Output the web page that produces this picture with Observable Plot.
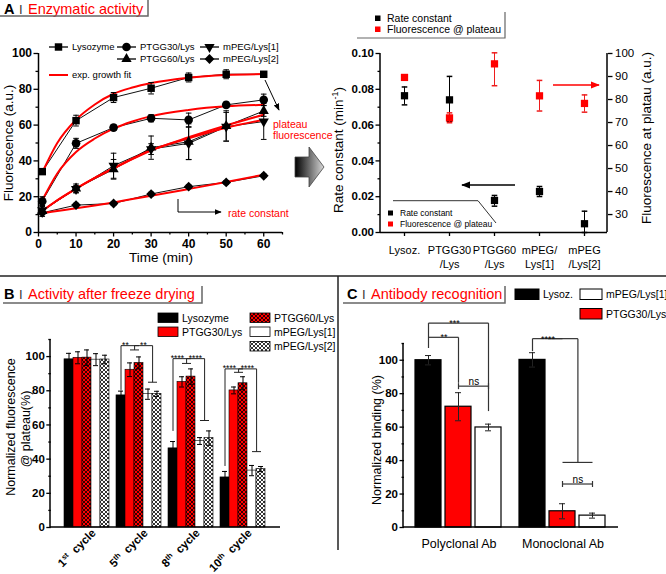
<!DOCTYPE html>
<html>
<head>
<meta charset="utf-8">
<script src="https://cdn.jsdelivr.net/npm/d3@7"></script>
<script src="https://cdn.jsdelivr.net/npm/@observablehq/plot@0.6"></script>
<style>
  body { margin: 0; background: #fff; }
  #fig { position: relative; width: 666px; height: 574px; overflow: hidden; background: #fff;
         font-family: "Liberation Sans", Arial, Helvetica, sans-serif; }
</style>
</head>
<body>
<svg width="0" height="0" style="position:absolute">
  <defs>
    <pattern id="hatchRed" patternUnits="userSpaceOnUse" width="4" height="4">
      <rect width="4" height="4" fill="#ff0000"/>
      <path d="M-1,-1L5,5M5,-1L-1,5" stroke="#000" stroke-width="0.8"/>
    </pattern>
    <pattern id="hatchWhite" patternUnits="userSpaceOnUse" width="4" height="4">
      <rect width="4" height="4" fill="#ffffff"/>
      <path d="M-1,-1L5,5M5,-1L-1,5" stroke="#000" stroke-width="0.8"/>
    </pattern>
  </defs>
</svg>
<div id="fig"></div>
<script>
// ================= DATA =================
// --- Panel A (left): fluorescence kinetics ---
const timeMin = [1, 10, 20, 30, 40, 50, 60];
const seriesA = ["Lysozyme", "PTGG30/Lys", "PTGG60/Lys", "mPEG/Lys[1]", "mPEG/Lys[2]"];
const fluoLysozyme = [34, 62.5, 75.4, 80.6, 86.6, 88.4, 88.4];
const errLysozyme  = [1.5, 3, 2.8, 3.2, 2.5, 2.5, 1];
const fluoPTGG30   = [17.5, 49.8, 58.6, 63.8, 62.9, 71.3, 74.1];
const errPTGG30    = [2.5, 2.8, 1.5, 2, 3.8, 1.5, 3.2];
const fluoPTGG60   = [12, 24.6, 35.3, 47.4, 50.7, 59.5, 67.9];
const errPTGG60    = [3, 2.5, 5.5, 6.5, 10, 8.5, 3];
const fluoMPEG1    = [12.5, 24.3, 37.3, 46.6, 49.8, 59.1, 62];
const errMPEG1     = [2, 2, 7, 3, 9, 8, 10];
const fluoMPEG2    = [11, 15.3, 16.2, 21.5, 25.6, 28, 31.7];
const errMPEG2     = [1, 1, 1, 1, 1, 1, 1];
// exponential growth fits
const fitTime      = [1, 5, 10, 15, 20, 25, 30, 40, 50, 60];
const fitLysozyme  = [33.5, 50, 63, 71.5, 77.5, 81, 83.5, 86.5, 88, 88.5];
const fitPTGG30    = [18, 33, 45, 52.5, 58, 62, 65, 68.5, 70.5, 71.3];
const fitPTGG60    = [12, 18, 24.5, 30.5, 35.8, 41, 45.8, 53.2, 59.8, 65.8];
const fitMPEG1     = [12, 18, 24.5, 30.5, 36, 41.2, 46, 52.6, 58.5, 63];
const fitMPEG2     = [10.8, 12, 13.5, 15.1, 16.8, 18.7, 20.5, 24.3, 28.2, 32.3];

// --- Panel A (right): fit parameters ---
const fitSamples      = ["Lysoz.", "PTGG30/Lys", "PTGG60/Lys", "mPEG/Lys[1]", "mPEG/Lys[2]"];
const fitSampleLabels = ["Lysoz.", "PTGG30\n/Lys", "PTGG60\n/Lys", "mPEG/\nLys[1]", "mPEG\n/Lys[2]"];
const rateConstant    = [0.0764, 0.0741, 0.0179, 0.0229, 0.0049];
const rateErrUp       = [0.0049, 0.0131, 0.0028, 0.0028, 0.007];
const rateErrDown     = [0.0051, 0.012, 0.0032, 0.0028, 0.0049];
const plateauFluo     = [89.6, 72, 95.5, 81.6, 78.3];
const plateauErrUp    = [1, 2.2, 4.8, 6.7, 3.7];
const plateauErrDown  = [1, 2.1, 9.5, 6.6, 3.8];

// --- Panel B: activity after freeze drying ---
const cycles      = ["1st cycle", "5th cycle", "8th cycle", "10th cycle"];
const seriesB     = ["Lysozyme", "PTGG30/Lys", "PTGG60/Lys", "mPEG/Lys[1]", "mPEG/Lys[2]"];
const actLysozyme = [98.4, 77.3, 46.3, 29.3];
const actLysozymeErr = [3.5, 2.5, 4, 3.5];
const actPTGG30   = [99.3, 92.3, 85.2, 80.2];
const actPTGG30Err = [3.5, 4, 3, 2];
const actPTGG60   = [99.4, 96.3, 88.3, 84.4];
const actPTGG60Err = [4.5, 3.5, 4.5, 3.8];
const actMPEG1    = [98.2, 78, 50.6, 33.3];
const actMPEG1Err = [3.5, 3, 2, 3];
const actMPEG2    = [98.3, 78.2, 52.3, 34.2];
const actMPEG2Err = [2.5, 1.5, 4.2, 1.5];
// significance brackets (levels in % units)
const sigCyclesB  = ["5th cycle", "8th cycle", "10th cycle"];
const sigStartB   = [80.5, 56.5, 36];
const sigTopB     = [106.4, 98.8, 92.8];
const sigPairB    = [103.9, 96, 90.8];
const sigMPEGB    = [85, 62.6, 44.4];
const sigLabelB   = ["**", "****", "****"];

// --- Panel C: antibody recognition ---
const antibodies   = ["Polyclonal Ab", "Monoclonal Ab"];
const seriesC      = ["Lysoz.", "PTGG30/Lys", "mPEG/Lys[1]"];
const bindLysoz    = [100, 100.2];
const bindLysozErr = [2.8, 4.3];
const bindPTGG30   = [72.2, 9.7];
const bindPTGG30Err = [8.4, 4.5];
const bindMPEG1    = [59.8, 7.1];
const bindMPEG1Err = [2, 1.5];
// significance levels
const sigPolyStart = 107.3, sigPolyTop3 = 122.2, sigPolyEnd3 = 69.6;
const sigPolyTop2 = 113.7, sigPolyEnd2 = 86.5, sigPolyNs = 84.5;
const sigMonoStart = 105.4, sigMonoTop = 112.9, sigMonoGroup = 38.9, sigMonoNs = 26;

// ================= HELPERS =================
const FONT = '"Liberation Sans", Arial, Helvetica, sans-serif';
const RED = "#ff0000";
const fig = document.getElementById("fig");
function place(el, left, top) {
  el.style.position = "absolute"; el.style.left = left + "px"; el.style.top = top + "px";
  fig.appendChild(el); return el;
}
function addLine(svg, x1, y1, x2, y2, w = 1.5) {
  d3.select(svg).append("line").attr("x1", x1).attr("y1", y1).attr("x2", x2).attr("y2", y2)
    .attr("stroke", "#000").attr("stroke-width", w);
}
const capSymbol = {draw(ctx, size) { const r = Math.sqrt(size / Math.PI); ctx.moveTo(-r, 0); ctx.lineTo(r, 0); }};
const triangleDown = {draw(ctx, size) {
  const y = -Math.sqrt(size / (Math.sqrt(3) * 3));
  ctx.moveTo(0, -y * 2); ctx.lineTo(-Math.sqrt(3) * y, y); ctx.lineTo(Math.sqrt(3) * y, y); ctx.closePath();
}};
const baseStyle = {fontFamily: FONT, background: "transparent", overflow: "visible", color: "#000"};

// ================= PANEL A (left) =================
const fluoA = [fluoLysozyme, fluoPTGG30, fluoPTGG60, fluoMPEG1, fluoMPEG2];
const errA = [errLysozyme, errPTGG30, errPTGG60, errMPEG1, errMPEG2];
const fitA = [fitLysozyme, fitPTGG30, fitPTGG60, fitMPEG1, fitMPEG2];
const rowsA = seriesA.flatMap((s, i) => timeMin.map((t, j) => ({
  series: s, t, v: fluoA[i][j], lo: fluoA[i][j] - errA[i][j], hi: fluoA[i][j] + errA[i][j]})));
const rowsFitA = seriesA.flatMap((s, i) => fitTime.map((t, j) => ({series: s, t, v: fitA[i][j]})));
const markerStyle = {
  "Lysozyme":    {symbol: "square", r: 4.2},
  "PTGG30/Lys":  {symbol: "circle", r: 4.3},
  "PTGG60/Lys":  {symbol: "triangle", r: 3.8},
  "mPEG/Lys[1]": {symbol: triangleDown, r: 3.8},
  "mPEG/Lys[2]": {symbol: "diamond2", r: 4.4}
};

const plotA1 = Plot.plot({
  width: 290, height: 275, marginLeft: 38, marginRight: 8, marginTop: 53, marginBottom: 43,
  style: baseStyle,
  x: {domain: [0, 65]},
  y: {domain: [0, 100]},
  marks: [
    Plot.axisY({ticks: [0, 20, 40, 60, 80, 100], tickSize: 4.5, tickPadding: 2, fontSize: 12, fontWeight: "bold", strokeWidth: 1.3, label: null}),
    Plot.axisY({ticks: [10, 30, 50, 70, 90], tickSize: 2.5, tickFormat: () => "", strokeWidth: 1.3, label: null}),
    Plot.axisX({ticks: [0, 10, 20, 30, 40, 50, 60], tickSize: 4.5, tickPadding: 2, fontSize: 12, fontWeight: "bold", strokeWidth: 1.3, label: null}),
    Plot.axisX({ticks: [5, 15, 25, 35, 45, 55, 65], tickSize: 2.5, tickFormat: () => "", strokeWidth: 1.3, label: null}),
    Plot.ruleX([0], {strokeWidth: 1.5}),
    Plot.ruleY([0], {strokeWidth: 1.5}),
    Plot.line(rowsA, {x: "t", y: "v", z: "series", stroke: "#111", strokeWidth: 1}),
    Plot.line(rowsFitA, {x: "t", y: "v", z: "series", stroke: RED, strokeWidth: 2, curve: "monotone-x"}),
    Plot.ruleX(rowsA, {x: "t", y1: "lo", y2: "hi", stroke: "#000", strokeWidth: 1}),
    Plot.dot(rowsA, {x: "t", y: "hi", symbol: capSymbol, r: 2.8, fill: "none", stroke: "#000", strokeWidth: 1}),
    Plot.dot(rowsA, {x: "t", y: "lo", symbol: capSymbol, r: 2.8, fill: "none", stroke: "#000", strokeWidth: 1}),
    ...seriesA.map(s => Plot.dot(rowsA.filter(d => d.series === s),
      {x: "t", y: "v", symbol: markerStyle[s].symbol, r: markerStyle[s].r, fill: "#000", stroke: "none"}))
  ]
});
place(plotA1, 0, 0);

// ================= PANEL A (right) =================
const rowsRate = fitSamples.map((c, i) => ({sample: c, v: rateConstant[i],
  lo: rateConstant[i] - rateErrDown[i], hi: rateConstant[i] + rateErrUp[i]}));
const rowsPlateau = fitSamples.map((c, i) => ({sample: c, v: plateauFluo[i],
  lo: plateauFluo[i] - plateauErrDown[i], hi: plateauFluo[i] + plateauErrUp[i]}));
const dimsA2 = {width: 336, height: 275, marginLeft: 50, marginRight: 59, marginTop: 53, marginBottom: 43};
const xA2 = {type: "point", domain: fitSamples, padding: 0.52};

const plotA2 = Plot.plot({
  ...dimsA2, style: baseStyle,
  x: xA2,
  y: {domain: [0, 0.1]},
  marks: [
    Plot.axisY({ticks: [0, 0.02, 0.04, 0.06, 0.08, 0.1], tickFormat: d3.format(".2f"), tickSize: 4.5, tickPadding: 2, fontSize: 11.5, fontWeight: "bold", strokeWidth: 1.3, label: null}),
    Plot.axisY({ticks: [0.01, 0.03, 0.05, 0.07, 0.09], tickSize: 2.5, tickFormat: () => "", strokeWidth: 1.3, label: null}),
    Plot.axisX({ticks: fitSamples, tickFormat: d => fitSampleLabels[fitSamples.indexOf(d)], tickSize: 4, tickPadding: 8, fontSize: 11, lineHeight: 1.25, strokeWidth: 1.3, label: null}),
    Plot.ruleY([0], {strokeWidth: 1.5}),
    Plot.ruleX(rowsRate, {x: "sample", y1: "lo", y2: "hi", stroke: "#000", strokeWidth: 1}),
    Plot.dot(rowsRate, {x: "sample", y: "hi", symbol: capSymbol, r: 2.8, fill: "none", stroke: "#000"}),
    Plot.dot(rowsRate, {x: "sample", y: "lo", symbol: capSymbol, r: 2.8, fill: "none", stroke: "#000"}),
    Plot.dot(rowsRate, {x: "sample", y: "v", symbol: "square", r: 4.1, fill: "#000", stroke: "none"})
  ]
});
addLine(plotA2, 50, 53, 50, 232);
addLine(plotA2, 277, 53, 277, 232);
place(plotA2, 330, 0);

const plotA3 = Plot.plot({
  ...dimsA2, style: baseStyle,
  x: {...xA2, axis: null},
  y: {domain: [22.2, 100]},
  marks: [
    Plot.axisY({anchor: "right", ticks: [30, 40, 50, 60, 70, 80, 90, 100], tickSize: 4.5, tickPadding: 3, fontSize: 11.5, strokeWidth: 1.3, label: null}),
    Plot.ruleX(rowsPlateau, {x: "sample", y1: "lo", y2: "hi", stroke: "#ee1c1c", strokeWidth: 1}),
    Plot.dot(rowsPlateau, {x: "sample", y: "hi", symbol: capSymbol, r: 2.8, fill: "none", stroke: "#ee1c1c"}),
    Plot.dot(rowsPlateau, {x: "sample", y: "lo", symbol: capSymbol, r: 2.8, fill: "none", stroke: "#ee1c1c"}),
    Plot.dot(rowsPlateau, {x: "sample", y: "v", symbol: "square", r: 4.1, fill: RED, stroke: "none"})
  ]
});
place(plotA3, 330, 0);

// ================= PANEL B =================
const actB = [actLysozyme, actPTGG30, actPTGG60, actMPEG1, actMPEG2];
const actErrB = [actLysozymeErr, actPTGG30Err, actPTGG60Err, actMPEG1Err, actMPEG2Err];
const rowsB = seriesB.flatMap((s, i) => cycles.map((c, j) => ({series: s, cycle: c, v: actB[i][j],
  lo: actB[i][j] - actErrB[i][j], hi: actB[i][j] + actErrB[i][j]})));
const fillB = {"Lysozyme": "#000", "PTGG30/Lys": RED, "PTGG60/Lys": "url(#hatchRed)",
               "mPEG/Lys[1]": "#fff", "mPEG/Lys[2]": "url(#hatchWhite)"};
const halfBarB = 4.6;
const segCenterB = sigCyclesB.flatMap((c, i) => [
  {fx: c, x1: "Lysozyme", x2: "Lysozyme", y1: sigStartB[i], y2: sigTopB[i]},
  {fx: c, x1: "Lysozyme", x2: "PTGG60/Lys", y1: sigTopB[i], y2: sigTopB[i]},
  {fx: c, x1: "PTGG30/Lys", x2: "PTGG60/Lys", y1: sigPairB[i], y2: sigPairB[i]},
  {fx: c, x1: "mPEG/Lys[1]", x2: "mPEG/Lys[2]", y1: sigMPEGB[i], y2: sigMPEGB[i]}
]);
const segEdgeB = sigCyclesB.flatMap((c, i) => [
  {fx: c, x1: "PTGG30/Lys", x2: "PTGG30/Lys", y1: sigTopB[i], y2: sigPairB[i]},
  {fx: c, x1: "PTGG30/Lys", x2: "mPEG/Lys[1]", y1: sigTopB[i], y2: sigTopB[i]},
  {fx: c, x1: "mPEG/Lys[1]", x2: "mPEG/Lys[1]", y1: sigTopB[i], y2: sigMPEGB[i]}
]);
const starsB = sigCyclesB.flatMap((c, i) => [
  {fx: c, x: "PTGG30/Lys", y: sigTopB[i], label: sigLabelB[i]},
  {fx: c, x: "mPEG/Lys[1]", y: sigTopB[i], label: sigLabelB[i]}
]);

const plotB = Plot.plot({
  width: 337, height: 298, marginLeft: 50, marginRight: 57, marginTop: 63, marginBottom: 47,
  style: baseStyle,
  fx: {domain: cycles, paddingInner: 0.13, paddingOuter: 0.25},
  x: {domain: seriesB, padding: 0, axis: null},
  y: {domain: [0, 110]},
  marks: [
    Plot.axisY({ticks: [0, 20, 40, 60, 80, 100], dx: -13.2, tickSize: 4.5, tickPadding: 2, fontSize: 11.5, fontWeight: "bold", strokeWidth: 1.3, label: null}),
    Plot.axisY({ticks: [10, 30, 50, 70, 90, 110], dx: -13.2, tickSize: 2.5, tickFormat: () => "", strokeWidth: 1.3, label: null}),
    Plot.axisFx({anchor: "bottom", tickRotate: -45, tickSize: 0, tickPadding: 8, dx: 7, dy: -4.5, fontSize: 11.5, fontWeight: "bold", label: null}),
    ...seriesB.map(s => Plot.barY(rowsB.filter(d => d.series === s),
      {fx: "cycle", x: "series", y: "v", fill: fillB[s], stroke: "#000", strokeWidth: 0.6})),
    Plot.ruleX(rowsB, {fx: "cycle", x: "series", y1: "lo", y2: "hi", stroke: "#000", strokeWidth: 1}),
    Plot.tickY(rowsB, {fx: "cycle", x: "series", y: "hi", insetLeft: 2, insetRight: 2, strokeWidth: 1}),
    Plot.tickY(rowsB, {fx: "cycle", x: "series", y: "lo", insetLeft: 2, insetRight: 2, strokeWidth: 1}),
    Plot.link(segCenterB, {fx: "fx", x1: "x1", x2: "x2", y1: "y1", y2: "y2", stroke: "#222", strokeWidth: 1}),
    Plot.link(segEdgeB, {fx: "fx", x1: "x1", x2: "x2", y1: "y1", y2: "y2", dx: halfBarB, stroke: "#222", strokeWidth: 1}),
    Plot.text(starsB, {fx: "fx", x: "x", y: "y", text: "label", dx: -halfBarB, dy: 2, lineAnchor: "bottom", fontSize: 8.5})
  ]
});
addLine(plotB, 50, 63, 50, 251);
addLine(plotB, 50, 251, 280, 251);
d3.select(plotB).selectAll('g[aria-label="fx-axis tick label"] text').each(function () {
  const m = this.textContent.match(/^(\d+)(st|nd|rd|th) (.*)$/);
  if (!m) return;
  const t = d3.select(this); t.text(null);
  t.append("tspan").text(m[1]);
  t.append("tspan").attr("baseline-shift", "super").attr("font-size", "7.5px").text(m[2]);
  t.append("tspan").text("\u00a0\u00a0" + m[3]);
});
place(plotB, 0, 276);

// ================= PANEL C =================
const bindC = [bindLysoz, bindPTGG30, bindMPEG1];
const bindErrC = [bindLysozErr, bindPTGG30Err, bindMPEG1Err];
const rowsC = seriesC.flatMap((s, i) => antibodies.map((a, j) => ({series: s, ab: a, v: bindC[i][j],
  lo: bindC[i][j] - bindErrC[i][j], hi: bindC[i][j] + bindErrC[i][j]})));
const fillC = {"Lysoz.": "#000", "PTGG30/Lys": RED, "mPEG/Lys[1]": "#fff"};
const halfStepC = 15.4;
const P = antibodies[0], M = antibodies[1];
const segCenterC = [
  {fx: P, x1: "Lysoz.", x2: "Lysoz.", y1: sigPolyStart, y2: sigPolyTop3},
  {fx: P, x1: "Lysoz.", x2: "mPEG/Lys[1]", y1: sigPolyTop3, y2: sigPolyTop3},
  {fx: P, x1: "mPEG/Lys[1]", x2: "mPEG/Lys[1]", y1: sigPolyTop3, y2: sigPolyEnd3},
  {fx: P, x1: "Lysoz.", x2: "PTGG30/Lys", y1: sigPolyTop2, y2: sigPolyTop2},
  {fx: P, x1: "PTGG30/Lys", x2: "PTGG30/Lys", y1: sigPolyTop2, y2: sigPolyEnd2},
  {fx: P, x1: "PTGG30/Lys", x2: "mPEG/Lys[1]", y1: sigPolyNs, y2: sigPolyNs},
  {fx: P, x1: "PTGG30/Lys", x2: "PTGG30/Lys", y1: sigPolyNs - 1.8, y2: sigPolyNs + 1.8},
  {fx: P, x1: "mPEG/Lys[1]", x2: "mPEG/Lys[1]", y1: sigPolyNs - 1.8, y2: sigPolyNs + 1.8},
  {fx: M, x1: "Lysoz.", x2: "Lysoz.", y1: sigMonoStart, y2: sigMonoTop},
  {fx: M, x1: "Lysoz.", x2: "PTGG30/Lys", y1: sigMonoTop, y2: sigMonoTop},
  {fx: M, x1: "PTGG30/Lys", x2: "mPEG/Lys[1]", y1: sigMonoGroup, y2: sigMonoGroup},
  {fx: M, x1: "PTGG30/Lys", x2: "mPEG/Lys[1]", y1: sigMonoNs, y2: sigMonoNs},
  {fx: M, x1: "PTGG30/Lys", x2: "PTGG30/Lys", y1: sigMonoNs - 1.8, y2: sigMonoNs + 1.8},
  {fx: M, x1: "mPEG/Lys[1]", x2: "mPEG/Lys[1]", y1: sigMonoNs - 1.8, y2: sigMonoNs + 1.8}
];
const segEdgeC = [
  {fx: M, x1: "Lysoz.", x2: "PTGG30/Lys", y1: sigMonoTop, y2: sigMonoTop},
  {fx: M, x1: "PTGG30/Lys", x2: "PTGG30/Lys", y1: sigMonoTop, y2: sigMonoGroup}
];
const starsCCenter = [{fx: P, x: "PTGG30/Lys", y: sigPolyTop3, label: "***"}];
const starsCEdge = [
  {fx: P, x: "Lysoz.", y: sigPolyTop2, label: "**"},
  {fx: M, x: "Lysoz.", y: sigMonoTop, label: "****"}
];
const nsC = [{fx: P, x: "PTGG30/Lys", y: sigPolyNs, label: "ns"}, {fx: M, x: "PTGG30/Lys", y: sigMonoNs, label: "ns"}];

const plotC = Plot.plot({
  width: 328, height: 298, marginLeft: 65, marginRight: 48, marginTop: 67, marginBottom: 47,
  style: baseStyle,
  fx: {domain: antibodies, paddingInner: 0.16, paddingOuter: 0.105},
  x: {domain: seriesC, paddingInner: 0.13, paddingOuter: 0, axis: null},
  y: {domain: [0, 110]},
  marks: [
    Plot.axisY({ticks: [0, 20, 40, 60, 80, 100], dx: -11, tickSize: 4.5, tickPadding: 2, fontSize: 11.5, fontWeight: "bold", strokeWidth: 1.3, label: null}),
    Plot.axisY({ticks: [10, 30, 50, 70, 90, 110], dx: -11, tickSize: 2.5, tickFormat: () => "", strokeWidth: 1.3, label: null}),
    Plot.axisFx({anchor: "bottom", tickSize: 0, tickPadding: 12, fontSize: 12.5, label: null}),
    ...seriesC.map(s => Plot.barY(rowsC.filter(d => d.series === s),
      {fx: "ab", x: "series", y: "v", fill: fillC[s], stroke: "#000", strokeWidth: 1.2})),
    Plot.ruleX(rowsC, {fx: "ab", x: "series", y1: "lo", y2: "hi", stroke: "#222", strokeWidth: 1}),
    Plot.tickY(rowsC, {fx: "ab", x: "series", y: "hi", insetLeft: 10, insetRight: 10, stroke: "#222", strokeWidth: 1}),
    Plot.tickY(rowsC, {fx: "ab", x: "series", y: "lo", insetLeft: 10, insetRight: 10, stroke: "#222", strokeWidth: 1}),
    Plot.link(segCenterC, {fx: "fx", x1: "x1", x2: "x2", y1: "y1", y2: "y2", stroke: "#333", strokeWidth: 1.2}),
    Plot.link(segEdgeC, {fx: "fx", x1: "x1", x2: "x2", y1: "y1", y2: "y2", dx: halfStepC, stroke: "#333", strokeWidth: 1.2}),
    Plot.text(starsCCenter, {fx: "fx", x: "x", y: "y", text: "label", dx: -4, dy: 3, lineAnchor: "bottom", fontSize: 9}),
    Plot.text(starsCEdge, {fx: "fx", x: "x", y: "y", text: "label", dx: halfStepC, dy: 3, lineAnchor: "bottom", fontSize: 9}),
    Plot.text(nsC, {fx: "fx", x: "x", y: "y", text: "label", dx: halfStepC, dy: -1.5, lineAnchor: "bottom", fontSize: 10})
  ]
});
addLine(plotC, 65, 67, 65, 251);
addLine(plotC, 65, 251, 280, 251);
place(plotC, 338, 276);

// ================= OVERLAY: titles, legends, arrows =================
const ov = d3.create("svg").attr("width", 666).attr("height", 574)
  .style("position", "absolute").style("left", "0px").style("top", "0px")
  .style("pointer-events", "none").attr("font-family", FONT);
const defs = ov.append("defs");
function marker(id, color, size) {
  defs.append("marker").attr("id", id).attr("viewBox", "0 0 10 10").attr("refX", 9).attr("refY", 5)
    .attr("markerWidth", size).attr("markerHeight", size).attr("markerUnits", "userSpaceOnUse")
    .attr("orient", "auto").append("path").attr("d", "M0,1L10,5L0,9Z").attr("fill", color);
}
marker("headBlack", "#000", 9); marker("headRed", RED, 9); marker("headSmall", "#000", 7);
const grad = defs.append("linearGradient").attr("id", "bigArrowGrad").attr("x1", 0).attr("x2", 1).attr("y1", 0).attr("y2", 0);
grad.append("stop").attr("offset", "0%").attr("stop-color", "#000");
grad.append("stop").attr("offset", "100%").attr("stop-color", "#d8d8d8");

function poly(pts, stroke = "#000", w = 1, mk) {
  const p = ov.append("polyline").attr("points", pts.map(p => p.join(",")).join(" "))
    .attr("fill", "none").attr("stroke", stroke).attr("stroke-width", w);
  if (mk) p.attr("marker-end", `url(#${mk})`);
  return p;
}
function txt(x, y, s, size, opts = {}) {
  const t = ov.append("text").attr("x", x).attr("y", y).attr("font-size", size).attr("dy", "0.35em")
    .attr("fill", opts.fill || "#000").text(s);
  if (opts.anchor) t.attr("text-anchor", opts.anchor);
  if (opts.weight) t.attr("font-weight", opts.weight);
  return t;
}
function vtxt(x, y, s, size) {
  return ov.append("text").attr("transform", `translate(${x},${y}) rotate(-90)`)
    .attr("text-anchor", "middle").attr("font-size", size).text(s);
}
function panelTitle(x, baseline, letter, label, boxRight, boxTop, boxBottom, boxLeft) {
  const t = ov.append("text").attr("y", baseline).attr("font-size", 14.5);
  t.append("tspan").attr("x", x).attr("font-weight", "bold").attr("font-size", 14.5).text(letter);
  t.append("tspan").attr("x", x + 15).attr("fill", "#333").attr("font-size", 13).text("I");
  t.append("tspan").attr("x", x + 24).attr("fill", RED).text(label);
  poly([[boxLeft, boxBottom], [boxRight, boxBottom], [boxRight, boxTop]], "#666", 1.5);
}

// dividers
poly([[0, 276], [666, 276]], "#222", 1.5);
poly([[338, 276], [338, 550]], "#222", 1.5);

// titles
panelTitle(4, 13.5, "A", "Enzymatic activity", 148, 0, 16, 0);
panelTitle(4, 299, "B", "Activity after freeze drying", 202, 286, 303, 3);
panelTitle(347, 299, "C", "Antibody recognition", 505, 286, 303, 343);

// --- Panel A left: axis titles, legend, annotations ---
vtxt(13, 143, "Fluorescence (a.u.)", 13.5);
txt(161, 257, "Time (min)", 13.5, {anchor: "middle"});
const legA = [
  {s: "Lysozyme", x: 49, y: 47}, {s: "PTGG30/Lys", x: 117, y: 47}, {s: "mPEG/Lys[1]", x: 200, y: 47},
  {s: "PTGG60/Lys", x: 117, y: 59}, {s: "mPEG/Lys[2]", x: 200, y: 59}
];
legA.forEach(d => {
  poly([[d.x, d.y], [d.x + 19, d.y]], "#000", 1.3);
  const st = markerStyle[d.s];
  const type = typeof st.symbol === "string"
    ? {square: d3.symbolSquare, circle: d3.symbolCircle, triangle: d3.symbolTriangle, diamond2: d3.symbolDiamond2}[st.symbol]
    : st.symbol;
  ov.append("path").attr("d", d3.symbol(type, Math.PI * st.r * st.r)()).attr("transform", `translate(${d.x + 9.5},${d.y})`).attr("fill", "#000");
  txt(d.x + 23, d.y, d.s, 9.5);
});
poly([[49, 75], [68, 75]], RED, 2);
txt(72, 75, "exp. growth fit", 9.5);
txt(273, 124, "plateau", 10.5, {fill: RED});
txt(273, 135, "fluorescence", 10.5, {fill: RED});
poly([[265, 80], [279, 110]], "#000", 1, "headSmall");
poly([[178, 199], [178, 212], [221, 212]], "#000", 1, "headSmall");
txt(228, 213, "rate constant", 10.5, {fill: RED});

// big gradient arrow
ov.append("path").attr("d", "M295,157L309,157L309,147L324,167L309,187L309,177L295,177Z")
  .attr("fill", "url(#bigArrowGrad)").attr("stroke", "#444").attr("stroke-width", 0.8);

// --- Panel A right ---
const rt = ov.append("text").attr("transform", "translate(343,150) rotate(-90)").attr("text-anchor", "middle").attr("font-size", 13.5);
rt.append("tspan").text("Rate constant (min");
rt.append("tspan").attr("baseline-shift", "super").attr("font-size", 9).text("-1");
rt.append("tspan").text(")");
vtxt(651, 138, "Fluorescence at platau (a.u.)", 13.5);
// top legend
ov.append("rect").attr("x", 375).attr("y", 15.5).attr("width", 5.5).attr("height", 5.5).attr("fill", "#000");
txt(387, 18, "Rate constant", 10.5);
ov.append("rect").attr("x", 375).attr("y", 26.5).attr("width", 5.5).attr("height", 5.5).attr("fill", RED);
txt(387, 29, "Fluorescence @ plateau", 10.5);
poly([[357, 38], [505, 38], [505, 12]], "#666", 1.2);
// inner legend
poly([[393, 200.7], [478, 200.7], [496, 223]], "#333", 1);
ov.append("rect").attr("x", 388).attr("y", 210.5).attr("width", 5).attr("height", 5).attr("fill", "#000");
txt(400, 213, "Rate constant", 8.5);
ov.append("rect").attr("x", 388).attr("y", 221.5).attr("width", 5).attr("height", 5).attr("fill", RED);
txt(400, 224, "Fluorescence @ plateau", 8.5);
// arrows
poly([[515, 185], [462, 185]], "#000", 1.5, "headBlack");
poly([[553, 85], [599, 85]], RED, 1.5, "headRed");

// --- Panel B legend & axis title ---
const legB = [
  {s: "Lysozyme", x: 158, y: 313, fill: "#000"}, {s: "PTGG30/Lys", x: 158, y: 327, fill: RED},
  {s: "PTGG60/Lys", x: 250, y: 313, fill: "url(#hatchRed)"}, {s: "mPEG/Lys[1]", x: 250, y: 327, fill: "#fff"},
  {s: "mPEG/Lys[2]", x: 250, y: 341.5, fill: "url(#hatchWhite)"}
];
legB.forEach(d => {
  ov.append("rect").attr("x", d.x).attr("y", d.y).attr("width", 20).attr("height", 9.5)
    .attr("fill", d.fill).attr("stroke", "#000").attr("stroke-width", 0.8);
  txt(d.x + 24, d.y + 5, d.s, 10.5);
});
vtxt(15, 427, "Normalized fluorescence", 12.5);
vtxt(30, 429, "@ plateau(%)", 12.5);

// --- Panel C legend & axis title ---
const legC = [
  {s: "Lysoz.", x: 515, y: 289, w: 24, fill: "#000"},
  {s: "mPEG/Lys[1]", x: 580, y: 289, w: 22, fill: "#fff"},
  {s: "PTGG30/Lys", x: 580, y: 308.5, w: 22, fill: RED}
];
legC.forEach(d => {
  ov.append("rect").attr("x", d.x).attr("y", d.y).attr("width", d.w).attr("height", 10.5)
    .attr("fill", d.fill).attr("stroke", "#000").attr("stroke-width", 1);
  txt(d.x + d.w + 4, d.y + 5.5, d.s, 10.5);
});
vtxt(381, 440, "Normalized binding (%)", 12.5);

fig.appendChild(ov.node());
</script>
</body>
</html>
